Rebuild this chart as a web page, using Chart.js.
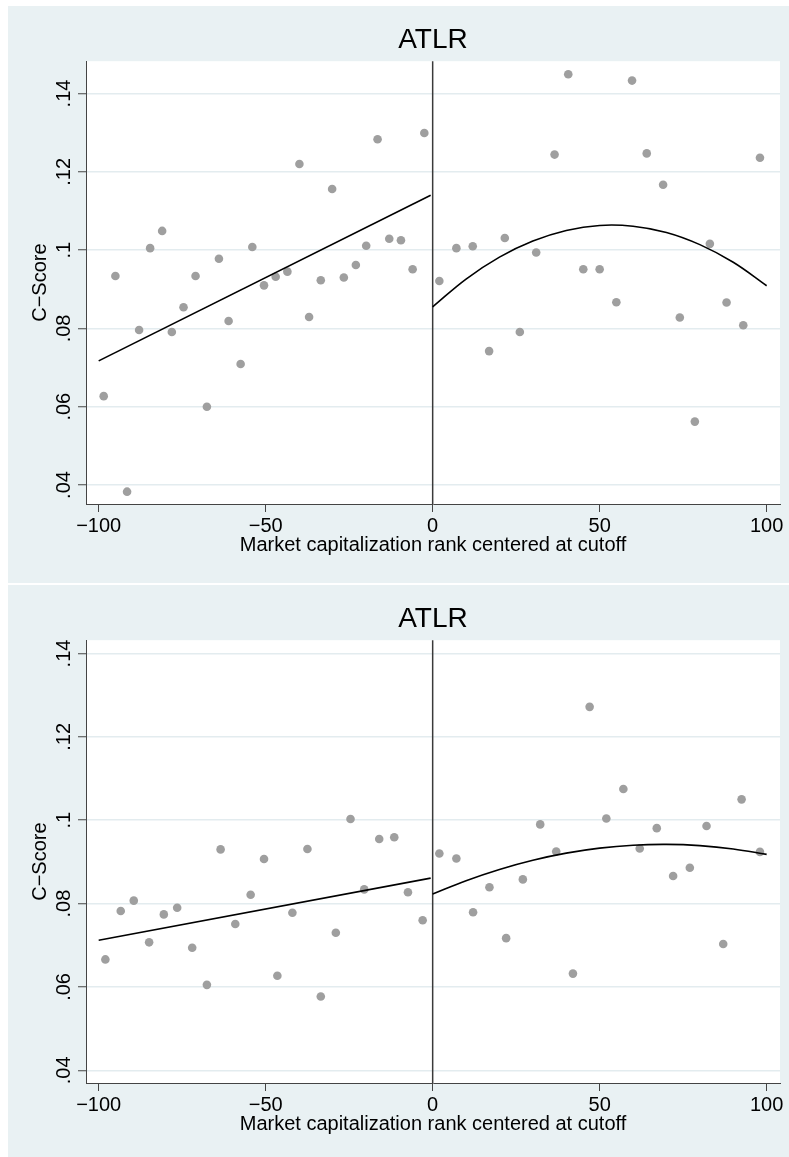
<!DOCTYPE html>
<html><head><meta charset="utf-8">
<script src="https://cdn.jsdelivr.net/npm/chart.js@4"></script>
<style>
html,body{margin:0;padding:0;background:#fff;width:789px;height:1157px;overflow:hidden}
.panel{position:absolute;left:8px;width:781px;height:577px;background:#e9f1f3}
#p1{top:6px} #p2{top:585px}
canvas{display:block}
</style></head><body>
<div class="panel" id="p1"><canvas id="c1" width="781" height="577"></canvas></div>
<div class="panel" id="p2"><canvas id="c2" width="781" height="577"></canvas></div>
<script>
const titleText = 'ATLR';
const xTitle = 'Market capitalization rank centered at cutoff';
const yTitle = 'C\u2212Score';
const xTicks = [-100, -50, 0, 50, 100];
const xTickLabels = ['\u2212100', '\u221250', '0', '50', '100'];
const yTicks = [0.04, 0.06, 0.08, 0.10, 0.12, 0.14];
const yTickLabels = ['.04', '.06', '.08', '.1', '.12', '.14'];
const cutoff = 0;

// Panel 1 (top)
const p1LeftX = [-98.5,-95.0,-91.5,-87.9,-84.6,-81.0,-78.1,-74.6,-71.0,-67.6,-64.0,-61.1,-57.5,-54.0,-50.5,-47.0,-43.5,-39.9,-37.0,-33.5,-30.1,-26.6,-23.0,-19.9,-16.5,-13.0,-9.5,-6.0,-2.5];
const p1LeftY = [0.0627,0.0934,0.0383,0.0796,0.1005,0.1049,0.0791,0.0854,0.0934,0.0600,0.0978,0.0819,0.0709,0.1008,0.0910,0.0932,0.0945,0.1220,0.0829,0.0923,0.1156,0.0930,0.0962,0.1011,0.1283,0.1029,0.1025,0.0951,0.1299];
const p1RightX = [2.0,7.1,12.0,16.9,21.6,26.1,31.0,36.5,40.6,45.1,50.0,55.0,59.7,64.1,69.0,74.0,78.5,83.0,88.0,93.0,98.0];
const p1RightY = [0.0921,0.1005,0.1010,0.0742,0.1031,0.0791,0.0994,0.1244,0.1449,0.0951,0.0951,0.0867,0.1433,0.1247,0.1167,0.0828,0.0562,0.1016,0.0866,0.0808,0.1236];
const p1FitLeftX = [-100, -0.6];
const p1FitLeftY = [0.0717, 0.1140];
const p1FitRightX = [0,10,20,30,40,50,60,70,80,90,100];
const p1FitRightY = [0.0855,0.0926,0.0982,0.1023,0.1050,0.1063,0.1061,0.1045,0.1014,0.0969,0.0909];

// Panel 2 (bottom)
const p2LeftX = [-98.0,-93.4,-89.5,-84.9,-80.5,-76.5,-72.0,-67.6,-63.5,-59.1,-54.5,-50.5,-46.5,-42.0,-37.5,-33.5,-29.0,-24.6,-20.5,-16.0,-11.5,-7.4,-3.0];
const p2LeftY = [0.0666,0.0782,0.0807,0.0707,0.0774,0.0790,0.0694,0.0605,0.0930,0.0751,0.0821,0.0907,0.0627,0.0778,0.0931,0.0577,0.0730,0.1003,0.0834,0.0955,0.0959,0.0827,0.0760];
const p2RightX = [2.0,7.1,12.1,17.0,22.0,27.0,32.2,37.0,42.0,47.0,52.0,57.1,62.0,67.1,72.0,77.0,82.0,87.0,92.5,98.0];
const p2RightY = [0.0920,0.0908,0.0779,0.0839,0.0717,0.0858,0.0990,0.0925,0.0632,0.1272,0.1004,0.1075,0.0932,0.0981,0.0866,0.0886,0.0986,0.0703,0.1050,0.0924];
const p2FitLeftX = [-100, -0.6];
const p2FitLeftY = [0.0712, 0.0861];
const p2FitRightX = [0,10,20,30,40,50,60,70,80,90,100];
const p2FitRightY = [0.0823,0.0855,0.0882,0.0904,0.0921,0.0933,0.0940,0.0942,0.0939,0.0931,0.0918];

const FONT = '"Liberation Sans", Arial, Helvetica, sans-serif';
Chart.defaults.font.family = FONT;
Chart.defaults.color = '#000';

const pts = (xs, ys) => xs.map((x, i) => ({x: x, y: ys[i]}));

const plotBg = {
  id: 'plotBg',
  beforeDraw(chart) {
    const a = chart.chartArea, ctx = chart.ctx;
    ctx.save(); ctx.fillStyle = '#ffffff';
    ctx.fillRect(a.left, a.top, a.right - a.left, a.bottom - a.top);
    ctx.restore();
  }
};
const cutLine = {
  id: 'cutLine',
  beforeDatasetsDraw(chart) {
    const a = chart.chartArea, ctx = chart.ctx, sx = chart.scales.x;
    const px = sx.getPixelForValue(cutoff);
    ctx.save(); ctx.strokeStyle = '#3a3a3a'; ctx.lineWidth = 1.5;
    ctx.beginPath(); ctx.moveTo(px, a.top); ctx.lineTo(px, a.bottom); ctx.stroke();
    ctx.restore();
  }
};
const yLabels = {
  id: 'yLabels',
  afterDraw(chart) {
    const s = chart.scales.y, ctx = chart.ctx;
    ctx.save();
    ctx.font = '20px ' + FONT; ctx.fillStyle = '#000';
    ctx.textAlign = 'center'; ctx.textBaseline = 'alphabetic';
    yTicks.forEach((v, i) => {
      const py = s.getPixelForValue(v);
      ctx.save(); ctx.translate(s.right - 16, py); ctx.rotate(-Math.PI / 2);
      ctx.fillText(yTickLabels[i], 0, 0); ctx.restore();
    });
    ctx.restore();
  }
};

function makeChart(id, scatL, scatR, fitL, fitR, yMin, yMax) {
  const marker = {pointRadius: 4.3, pointHoverRadius: 4.3, pointBackgroundColor: '#9f9f9f', pointBorderWidth: 0, showLine: false};
  const line = {pointRadius: 0, borderColor: '#000', borderWidth: 1.6, showLine: true, fill: false};
  return new Chart(document.getElementById(id), {
    type: 'scatter',
    data: {datasets: [
      Object.assign({data: fitL}, line),
      Object.assign({data: fitR, tension: 0.4}, line),
      Object.assign({data: scatL}, marker),
      Object.assign({data: scatR}, marker)
    ]},
    options: {
      responsive: false, animation: false, devicePixelRatio: 1,
      layout: {padding: {left: 0, right: 9, top: 0, bottom: 0}},
      plugins: {
        legend: {display: false}, tooltip: {enabled: false},
        title: {display: true, text: titleText, fullSize: false,
          font: {size: 28, weight: 'normal'}, color: '#000',
          padding: {top: 17, bottom: 4.6}}
      },
      scales: {
        x: {
          type: 'linear', min: -103.8, max: 104,
          afterBuildTicks: s => { s.ticks = xTicks.map(v => ({value: v})); },
          afterFit: s => { s.height = 79; },
          ticks: {font: {size: 20}, color: '#000', padding: 2,
            callback: (v) => xTickLabels[xTicks.indexOf(v)]},
          grid: {drawOnChartArea: false, drawTicks: true, tickLength: 8, tickColor: '#444', tickWidth: 1},
          border: {display: true, color: '#444', width: 1},
          title: {display: true, text: xTitle, font: {size: 20}, color: '#000', padding: {top: 0, bottom: 26}}
        },
        y: {
          type: 'linear', min: yMin, max: yMax,
          afterBuildTicks: s => { s.ticks = yTicks.map(v => ({value: v})); },
          afterFit: s => { s.width = 78; },
          ticks: {display: false},
          grid: {color: '#e3ecef', lineWidth: 1.5, drawTicks: true, tickLength: 8, tickColor: '#444', tickWidth: 1},
          border: {display: true, color: '#444', width: 1},
          title: {display: true, text: yTitle, font: {size: 20}, color: '#000', padding: {top: 20, bottom: 0}}
        }
      }
    },
    plugins: [plotBg, cutLine, yLabels]
  });
}

makeChart('c1', pts(p1LeftX, p1LeftY), pts(p1RightX, p1RightY), pts(p1FitLeftX, p1FitLeftY), pts(p1FitRightX, p1FitRightY), 0.03515, 0.14825);
makeChart('c2', pts(p2LeftX, p2LeftY), pts(p2RightX, p2RightY), pts(p2FitLeftX, p2FitLeftY), pts(p2FitRightX, p2FitRightY), 0.03695, 0.14319);
</script>
</body></html>
